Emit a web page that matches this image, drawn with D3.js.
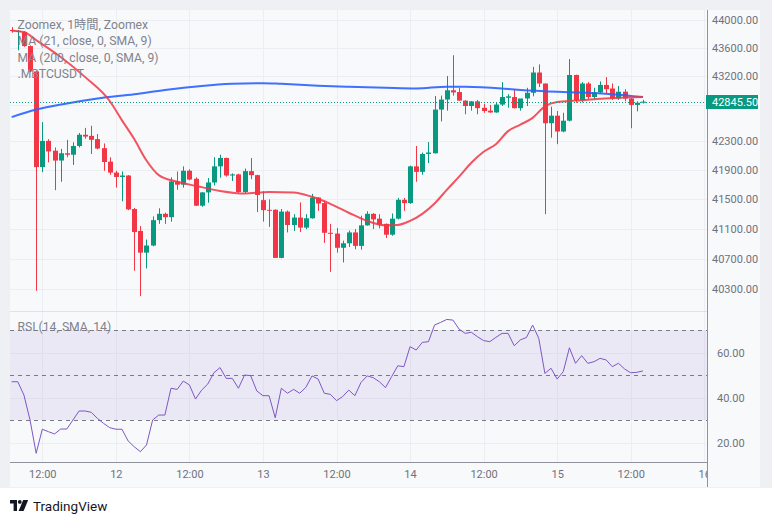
<!DOCTYPE html>
<html>
<head>
<meta charset="utf-8">
<script src="https://cdn.jsdelivr.net/npm/d3@7"></script>
<style>
  body { margin: 0; background: #ffffff; }
  svg { display: block; }
  text { font-family: Roboto, "Noto Sans CJK JP", sans-serif; }
</style>
</head>
<body>
<svg id="chart" width="772" height="523"></svg>
<script>

// 1h candles, index 0 = 11th 07:00
var opens = [43860,43835,43830,43630,43270,41940,42300,42165,42030,42130,
  42110,42230,42385,42370,42325,42200,42015,41865,41805,41825,
  41370,41075,40785,40880,41220,41305,41260,41745,41700,41890,
  41780,41415,41595,41730,41950,42065,41825,41840,41600,41885,
  41830,41490,41360,41360,40715,41335,41155,41255,41120,41245,
  41525,41450,41050,41040,40850,40910,41055,40875,41150,41305,
  41240,41170,41025,41240,41495,41450,41950,41875,42120,42130,
  42735,42875,43005,42980,42860,42785,42850,42760,42720,42695,
  42805,42900,42910,42755,42890,42970,43255,43100,42545,42650,
  42430,42580,43220,42865,43100,42910,42975,43080,43030,42890,
  42985,42890,42800,42830];
var highs = [43900,43860,43840,43640,43280,42560,42325,42210,42190,42315,
  42280,42410,42480,42510,42395,42265,42075,41890,41880,41830,
  41385,41140,40960,41270,41380,41320,41800,41880,41950,41910,
  41800,41600,41790,42075,42110,42070,41855,41850,41920,42065,
  41835,41610,41500,41365,41370,41350,41300,41460,41300,41575,
  41530,41480,41170,41115,40945,41080,41100,41280,41340,41315,
  41300,41175,41310,41520,41520,41960,42230,42140,42285,42925,
  42930,43205,43500,43040,42865,42855,42870,42815,42800,42830,
  43120,42950,43020,42770,43040,43335,43370,43100,42775,42715,
  42690,43445,43225,43120,43120,43040,43130,43190,43100,43065,
  43020,42895,42850,42870];
var lows = [43820,43570,43620,43260,40280,41870,42005,41625,41740,42075,
  41970,42210,42330,42120,42185,41890,41835,41660,41475,41355,
  40545,40210,40575,40870,41170,41170,41200,41630,41660,41760,
  41410,41400,41455,41690,41795,41810,41750,41590,41580,41775,
  41330,41200,41130,40715,40710,41055,41075,41060,41100,41240,
  41345,40915,40530,40785,40655,40860,40830,40825,41145,41100,
  41110,40980,41010,41230,41345,41440,41740,41835,41995,42125,
  42570,42720,42930,42860,42670,42720,42670,42690,42690,42690,
  42785,42760,42750,42720,42785,42920,43050,41300,42345,42255,
  42420,42570,42830,42835,42880,42880,42960,42960,42870,42870,
  42850,42475,42710,42820];
var closes = [43850,43845,43630,43270,41940,42300,42155,42030,42130,42110,
  42230,42385,42360,42315,42195,42010,41865,41805,41825,41365,
  41060,40785,40880,41220,41305,41260,41745,41700,41890,41770,
  41415,41595,41730,41950,42065,41825,41840,41600,41885,41830,
  41560,41355,41350,40715,41335,41155,41255,41120,41245,41525,
  41445,41050,41040,40850,40910,41055,40875,41150,41305,41230,
  41160,41025,41240,41495,41450,41950,41875,42120,42140,42735,
  42875,43005,42975,42860,42785,42850,42755,42715,42695,42805,
  42910,42920,42755,42890,42970,43255,43100,42545,42650,42430,
  42580,43220,42865,43100,42910,42975,43080,43020,42890,42985,
  42890,42800,42830,42845.5];

// moving averages at some candle indexes
var ma21Idx = [0,2,4,8,12,16,18,20,22,24,27,30,34,38,42,46,49,52,55,58,
  61,63,65,67,69,71,73,75,77,79,81,83,85,87,89,92,96,100,103];
var ma21 = [43850,43830,43715,43475,43190,42855,42585,42325,42030,41830,
  41740,41685,41615,41580,41600,41595,41535,41440,41320,41210,
  41150,41155,41210,41305,41445,41630,41810,42000,42150,42255,
  42435,42525,42620,42780,42840,42860,42885,42905,42910];
var ma200Idx = [0,4,9,14,20,25,31,36,41,44,50,55,61,66,71,74,80,82,87,93,98,103];
var ma200 = [42630,42735,42820,42890,42950,43010,43065,43095,43105,43095,
  43070,43055,43040,43030,43055,43055,43030,43015,42990,42975,42950,42910];

var rsi = [47,47,41.1,30,15.2,25.9,24.8,23.8,26,26,
  30,34,34,33.4,30.7,28.5,26.6,25.9,25.9,20.7,
  18.1,15.9,18.9,30,32.2,32.2,44.1,43.6,47.3,45.6,
  39.3,43.3,46,51,53.3,48.5,48.5,44.1,50,49.7,
  42.9,40.8,40.8,31,44.1,41.9,43.6,41.9,44.5,49.6,
  48.2,41.9,41.4,38.6,40.4,43.3,40.8,46.7,49.6,48.8,
  47,44.4,49.3,54.1,53.7,62.6,61.1,64.5,64.8,72.2,
  73.4,74.7,74.4,70.4,68.5,69,67,65.3,64.8,66.7,
  68.5,68.5,63,65.6,66.7,72.2,66.3,50.7,53,48.2,
  51.5,62.1,55.2,58.6,55.2,55.9,57.4,56.7,53.7,55.2,
  52.7,51,51.2,51.8];

var lastPrice = 42845.5;
var priceTicks = [44000,43600,43200,42800,42300,41900,41500,41100,40700,40300];
var rsiTicks = [20,40,60];
var rsiLevels = [70,50,30];
var timeTicks = [5,17,29,41,53,65,77,89,101,113];
var timeLabels = ["12:00","12","12:00","13","12:00","14","12:00","15","12:00","16"];
var legendLines = ["Zoomex, 1時間, Zoomex","MA (21, close, 0, SMA, 9)",
  "MA (200, close, 0, SMA, 9)",".MBTCUSDT"];

// colours
var upColor = "#089981", downColor = "#f23645";
var gridColor = "#eceef2", textColor = "#6f727c";

var L = 10, R = 707, T = 10, paneSplit = 311, rsiBottom = 462, axisBottom = 487;

var svg = d3.select("#chart");

// frame and background
svg.append("rect").attr("width", 772).attr("height", 488).attr("fill", "#eef0f3");
svg.append("rect").attr("x", L).attr("y", T).attr("width", 750).attr("height", axisBottom - T)
  .attr("fill", "#f8f9fb");

var x = d3.scaleLinear().domain([5, 101]).range([42.3, 630.7]);
var y = d3.scaleLog().domain([40300, 44000]).range([289.3, 20.2]);
var yr = d3.scaleLinear().domain([30, 70]).range([420, 330]);

svg.append("clipPath").attr("id", "clipPrice")
  .append("rect").attr("x", L).attr("y", T).attr("width", R - L).attr("height", paneSplit - T);
svg.append("clipPath").attr("id", "clipRsi")
  .append("rect").attr("x", L).attr("y", paneSplit).attr("width", R - L).attr("height", rsiBottom - paneSplit);
svg.append("clipPath").attr("id", "clipTime")
  .append("rect").attr("x", L).attr("y", rsiBottom).attr("width", R - L).attr("height", axisBottom - rsiBottom);

// grid
var grid = svg.append("g").attr("stroke", gridColor).attr("stroke-width", 1);
grid.selectAll(".vg").data(timeTicks.filter(function(d) { return x(d) < R; }))
  .enter().append("line")
  .attr("x1", function(d) { return Math.round(x(d)) + 0.5; })
  .attr("x2", function(d) { return Math.round(x(d)) + 0.5; })
  .attr("y1", T).attr("y2", rsiBottom);
grid.selectAll(".hg").data(priceTicks).enter().append("line")
  .attr("x1", L).attr("x2", R)
  .attr("y1", function(d) { return Math.round(y(d)) + 0.5; })
  .attr("y2", function(d) { return Math.round(y(d)) + 0.5; });
grid.selectAll(".rg").data(rsiTicks).enter().append("line")
  .attr("x1", L).attr("x2", R)
  .attr("y1", function(d) { return Math.round(yr(d)) + 0.5; })
  .attr("y2", function(d) { return Math.round(yr(d)) + 0.5; });

// pane separator
svg.append("line").attr("x1", L).attr("x2", R).attr("y1", paneSplit + 0.5).attr("y2", paneSplit + 0.5)
  .attr("stroke", "#dfe2e8");

// ---- price pane
var price = svg.append("g").attr("clip-path", "url(#clipPrice)");

var candles = price.selectAll(".candle").data(closes).enter().append("g");
candles.append("line")
  .attr("x1", function(d, i) { return Math.round(x(i)) + 0.5; })
  .attr("x2", function(d, i) { return Math.round(x(i)) + 0.5; })
  .attr("y1", function(d, i) { return y(highs[i]); })
  .attr("y2", function(d, i) { return y(lows[i]); })
  .attr("stroke", function(d, i) { return d >= opens[i] ? upColor : downColor; });
candles.append("rect")
  .attr("x", function(d, i) { return Math.round(x(i)) - 2; })
  .attr("width", 5)
  .attr("y", function(d, i) { return Math.min(y(opens[i]), y(d)); })
  .attr("height", function(d, i) { return Math.max(1, Math.abs(y(opens[i]) - y(d))); })
  .attr("fill", function(d, i) { return d >= opens[i] ? upColor : downColor; });

var maLine = d3.line().curve(d3.curveMonotoneX);
price.append("path")
  .attr("d", maLine(ma200Idx.map(function(d, i) { return [x(d), y(ma200[i])]; })))
  .attr("fill", "none").attr("stroke", "#2962ff").attr("stroke-width", 2).attr("opacity", 0.9);
price.append("path")
  .attr("d", maLine(ma21Idx.map(function(d, i) { return [x(d), y(ma21[i])]; })))
  .attr("fill", "none").attr("stroke", "#f23645").attr("stroke-width", 2).attr("opacity", 0.85);

// last price line
svg.append("line").attr("x1", L).attr("x2", R)
  .attr("y1", Math.round(y(lastPrice)) + 0.5).attr("y2", Math.round(y(lastPrice)) + 0.5)
  .attr("stroke", upColor).attr("stroke-dasharray", "1,2");

// legend
svg.append("g").selectAll("text").data(legendLines).enter().append("text")
  .attr("x", 17.5).attr("y", function(d, i) { return 28.5 + i * 16.6; })
  .attr("font-size", 12.2).attr("fill", "#80838c").text(function(d) { return d; });

// ---- RSI pane
var rp = svg.append("g").attr("clip-path", "url(#clipRsi)");
rp.append("rect").attr("x", L).attr("width", R - L)
  .attr("y", yr(70)).attr("height", yr(30) - yr(70))
  .attr("fill", "#7e57c2").attr("fill-opacity", 0.1);
rp.selectAll(".lvl").data(rsiLevels).enter().append("line")
  .attr("x1", L).attr("x2", R)
  .attr("y1", function(d) { return Math.round(yr(d)) + 0.5; })
  .attr("y2", function(d) { return Math.round(yr(d)) + 0.5; })
  .attr("stroke", "#787b86").attr("stroke-dasharray", "4,4");
rp.append("path")
  .attr("d", d3.line().x(function(d, i) { return x(i); }).y(function(d) { return yr(d); })(rsi))
  .attr("fill", "none").attr("stroke", "#7e57c2").attr("stroke-width", 1);
svg.append("text").attr("x", 17.5).attr("y", 331).attr("font-size", 12.2)
  .attr("fill", "#80838c").text("RSI (14, SMA, 14)");

// ---- axes
var priceAxis = d3.axisRight(y).tickValues(priceTicks.filter(function(d) { return d !== 42800; }))
  .tickFormat(d3.format(".2f")).tickSize(0).tickPadding(5);
var pa = svg.append("g").attr("transform", "translate(" + R + ",0)").call(priceAxis);
pa.select(".domain").remove();
pa.selectAll("text").attr("fill", textColor).attr("font-size", 11).attr("font-family", "Roboto");

var rsiAxis = d3.axisRight(yr).tickValues(rsiTicks).tickFormat(d3.format(".2f"))
  .tickSize(0).tickPadding(10);
var ra = svg.append("g").attr("transform", "translate(" + R + ",0)").call(rsiAxis);
ra.select(".domain").remove();
ra.selectAll("text").attr("fill", textColor).attr("font-size", 11).attr("font-family", "Roboto");

var timeAxis = d3.axisBottom(x).tickValues(timeTicks)
  .tickFormat(function(d, i) { return timeLabels[i]; }).tickSize(0).tickPadding(8);
var ta = svg.append("g").attr("clip-path", "url(#clipTime)")
  .append("g").attr("transform", "translate(0," + rsiBottom + ")").call(timeAxis);
ta.select(".domain").remove();
ta.selectAll("text").attr("fill", textColor).attr("font-size", 11).attr("font-family", "Roboto");

// axis borders
svg.append("line").attr("x1", L).attr("x2", R).attr("y1", rsiBottom + 0.5).attr("y2", rsiBottom + 0.5)
  .attr("stroke", "#8f929b");
svg.append("line").attr("x1", R + 0.5).attr("x2", R + 0.5).attr("y1", T).attr("y2", axisBottom)
  .attr("stroke", "#8f929b");

// last price label
var ly = Math.round(y(lastPrice));
svg.append("rect").attr("x", R - 1).attr("y", ly - 7).attr("width", 52).attr("height", 14)
  .attr("fill", upColor);
svg.append("text").attr("x", R + 5).attr("y", ly + 4).attr("font-size", 11)
  .attr("font-family", "Roboto").attr("fill", "#ffffff").text(d3.format(".2f")(lastPrice));

// TradingView logo
var logo = svg.append("g").attr("transform", "translate(10,500)").attr("fill", "#131722");
logo.append("path").attr("d", "M0 0H7V11H3.6V3.4H0Z");
logo.append("circle").attr("cx", 9.8).attr("cy", 1.9).attr("r", 1.9);
logo.append("path").attr("d", "M13.2 0H18.2L13.6 11H8.6Z");
svg.append("text").attr("x", 33).attr("y", 511).attr("font-size", 13.5)
  .attr("fill", "#131722").text("TradingView");

</script>
</body>
</html>
